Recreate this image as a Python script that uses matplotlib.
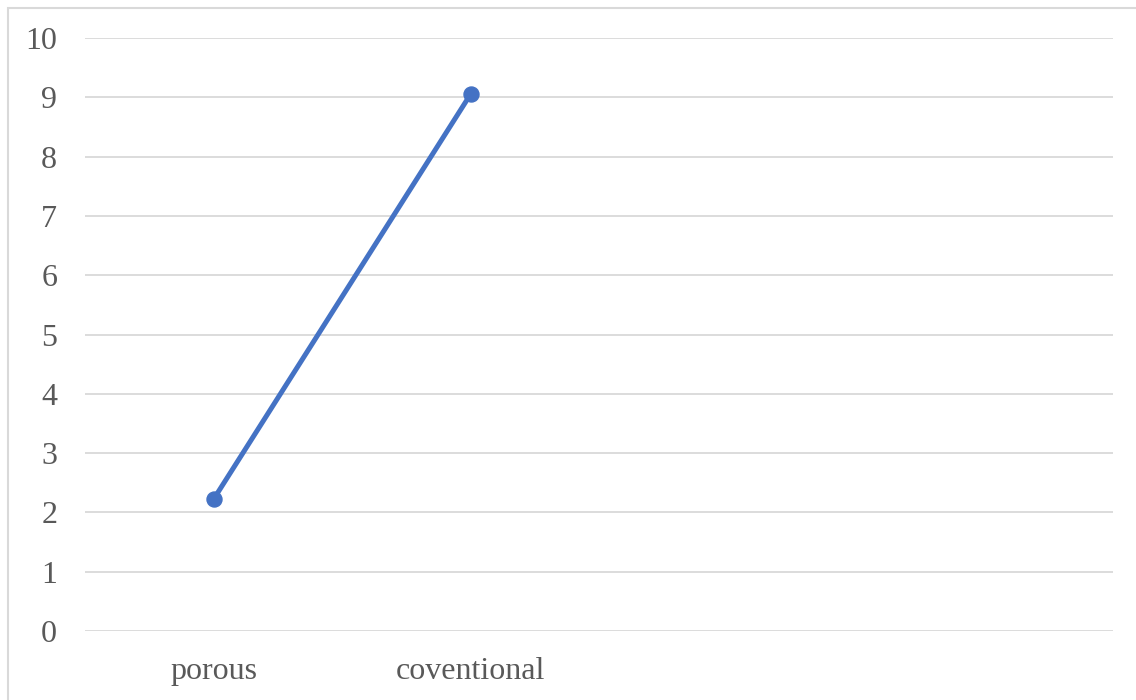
import matplotlib.pyplot as plt
from matplotlib.patches import Rectangle

# category axis has four slots, only the first two hold data
categories = ["porous", "coventional", "", ""]
values = [2.22, 9.05]
y_ticks = list(range(0, 11))

plt.rcParams['font.family'] = ['Liberation Serif', 'DejaVu Serif']

fig = plt.figure(figsize=(11.36, 7.0), dpi=100)
ax = fig.add_axes([85 / 1136, 69 / 700, 1028 / 1136, 593 / 700])

x = list(range(len(categories)))
ax.plot(x[:len(values)], values, color='#4472C4', linewidth=3.6,
        marker='o', markersize=10.8, solid_capstyle='round', zorder=3)

ax.set_xlim(-0.5, len(categories) - 0.5)
ax.set_ylim(0, 10)
ax.set_yticks(y_ticks)
ax.set_xticks(x)
ax.set_xticklabels(categories)

ax.grid(axis='y', color='#d9d9d9', linewidth=1.3)
ax.set_axisbelow(True)
for side in ['top', 'right', 'left', 'bottom']:
    ax.spines[side].set_visible(False)
ax.tick_params(axis='both', length=0, labelsize=23, labelcolor='#595959')
ax.tick_params(axis='y', pad=20)
ax.tick_params(axis='x', pad=19)

# chart area outline along the top and left
fig.patches.append(Rectangle((8 / 1136, -0.1), 1.2, (692 / 700) + 0.1,
                             transform=fig.transFigure, fill=False,
                             edgecolor='#d9d9d9', linewidth=1.5))

fig.savefig("out.png", dpi=100)
